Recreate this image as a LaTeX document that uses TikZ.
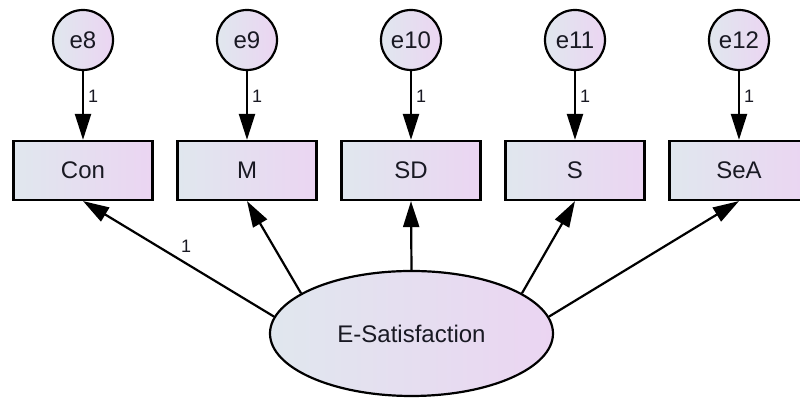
\documentclass[tikz,border=0pt]{standalone}
\usepackage{fontspec}
\setmainfont{Liberation Sans}
\usetikzlibrary{arrows.meta,shapes.geometric}
\definecolor{gradA}{RGB}{224,231,238}
\definecolor{gradB}{RGB}{235,213,242}
\definecolor{txt}{RGB}{25,25,35}
\tikzset{
  shadefill/.style={left color=gradA, right color=gradB, draw=black, line width=1.1pt},
  errc/.style={circle, shadefill, minimum size=30pt, inner sep=0pt, font=\fontsize{12}{14}\selectfont, text=txt},
  obsbox/.style={rectangle, shadefill, minimum width=69.5pt, minimum height=29.5pt, inner sep=0pt, font=\fontsize{12}{14}\selectfont, text=txt},
  latent/.style={ellipse, shadefill, minimum width=141.5pt, minimum height=62.5pt, inner sep=0pt, font=\fontsize{12}{14}\selectfont, text=txt},
  pathar/.style={line width=1.1pt, -{Triangle[length=13pt,width=8pt]}},
  wt/.style={font=\fontsize{9}{10}\selectfont, text=txt, inner sep=1pt}
}
\begin{document}
\begin{tikzpicture}[x=0.5pt,y=-0.5pt]
\useasboundingbox (0,0) rectangle (800,399);
\fill[white] (0,0) rectangle (800,399);
% error circles
\node[errc] (e8)  at (83,40)  {e8};
\node[errc] (e9)  at (247,40) {e9};
\node[errc] (e10) at (411,40) {e10};
\node[errc] (e11) at (575,40) {e11};
\node[errc] (e12) at (739,40) {e12};
% observed boxes
\node[obsbox] (Con) at (83,170.5)  {Con};
\node[obsbox] (M)   at (247,170.5) {M};
\node[obsbox] (SD)  at (411,170.5) {SD};
\node[obsbox] (S)   at (575,170.5) {S};
\node[obsbox] (SeA) at (739,170.5) {SeA};
% latent
\node[latent] (ES) at (411.5,333.5) {E-Satisfaction};
% error paths
\foreach \e/\b in {e8/Con,e9/M,e10/SD,e11/S,e12/SeA}{
  \draw[pathar] (\e) -- node[wt, pos=0.36, right=1pt] {1} (\b.north);
}
% loadings
\draw[pathar] (ES.173) -- node[wt, pos=0.46, above=4pt] {1} (Con.south);
\draw[pathar] (ES.160) -- (M.south);
\draw[pathar] (ES.90) -- (SD.south);
\draw[pathar] (ES.20) -- (S.south);
\draw[pathar] (ES.7) -- (SeA.south);
\end{tikzpicture}
\end{document}
